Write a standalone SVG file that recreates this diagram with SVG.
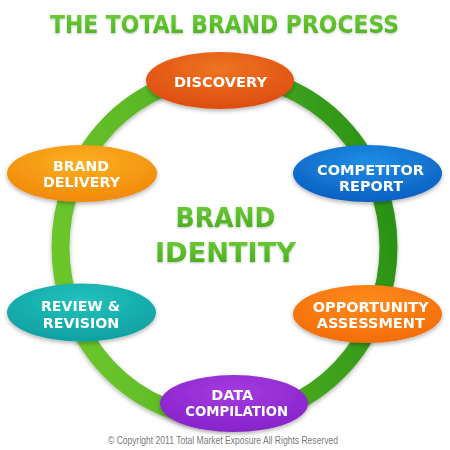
<svg xmlns="http://www.w3.org/2000/svg" width="450" height="450" viewBox="0 0 450 450">
<style>
.lbl{font-family:"DejaVu Sans","Liberation Sans",Arial,sans-serif;font-weight:bold;font-size:14.5px;fill:#ffffff;text-anchor:middle}
.big{font-family:"DejaVu Sans","Liberation Sans",Arial,sans-serif;font-weight:bold;font-size:26px;fill:url(#gtxt);text-anchor:middle}
.title{font-family:"DejaVu Sans","Liberation Sans",Arial,sans-serif;font-weight:bold;font-size:24.5px;fill:url(#gtitle);text-anchor:middle}
.copy{font-family:"Liberation Sans",Arial,sans-serif;font-size:10px;fill:#7a7a7a;text-anchor:middle}
.node{filter:url(#sh)}
</style>
<defs>
<filter id="sh" x="-20%" y="-30%" width="140%" height="170%">
<feDropShadow dx="0" dy="2" stdDeviation="2" flood-color="#000" flood-opacity="0.3"/>
</filter>
<filter id="tsh" x="-10%" y="-20%" width="120%" height="150%">
<feDropShadow dx="0" dy="1" stdDeviation="0.8" flood-color="#000" flood-opacity="0.25"/>
</filter>
<linearGradient id="gtitle" x1="0" y1="0" x2="0" y2="1">
<stop offset="0" stop-color="#6fd13a"/>
<stop offset="1" stop-color="#4aae1e"/>
</linearGradient>
<linearGradient id="gtxt" x1="0" y1="0" x2="0" y2="1">
<stop offset="0" stop-color="#6ccd35"/>
<stop offset="1" stop-color="#45a81c"/>
</linearGradient>
<linearGradient id="gring" x1="0" y1="0.55" x2="1" y2="0.35">
<stop offset="0" stop-color="#6cc62c"/>
<stop offset="0.5" stop-color="#52b022"/>
<stop offset="1" stop-color="#2a9216"/>
</linearGradient>
<radialGradient id="gdisc" cx="0.5" cy="0.3" r="0.75">
<stop offset="0" stop-color="#ee7422"/>
<stop offset="1" stop-color="#dc4a0e"/>
</radialGradient>
<radialGradient id="gbd" cx="0.5" cy="0.3" r="0.75">
<stop offset="0" stop-color="#fbb022"/>
<stop offset="1" stop-color="#f08608"/>
</radialGradient>
<radialGradient id="gcr" cx="0.5" cy="0.3" r="0.75">
<stop offset="0" stop-color="#1e8ee4"/>
<stop offset="1" stop-color="#0a5cc0"/>
</radialGradient>
<radialGradient id="gopp" cx="0.5" cy="0.3" r="0.75">
<stop offset="0" stop-color="#ff8c1e"/>
<stop offset="1" stop-color="#f26a06"/>
</radialGradient>
<radialGradient id="grev" cx="0.5" cy="0.3" r="0.75">
<stop offset="0" stop-color="#22c2bc"/>
<stop offset="1" stop-color="#0e9ea0"/>
</radialGradient>
<radialGradient id="gdata" cx="0.5" cy="0.3" r="0.75">
<stop offset="0" stop-color="#a53ae0"/>
<stop offset="1" stop-color="#8422c8"/>
</radialGradient>
</defs>
<rect width="450" height="450" fill="#ffffff"/>
<text class="title" x="224.5" y="33" textLength="349" lengthAdjust="spacingAndGlyphs" filter="url(#tsh)">THE TOTAL BRAND PROCESS</text>
<g id="connectors">
<ellipse cx="224.5" cy="247" rx="164" ry="172" fill="none" stroke="url(#gring)" stroke-width="18" filter="url(#sh)"/>
</g>
<g id="center">
<text class="big" x="225.5" y="227" textLength="100" lengthAdjust="spacingAndGlyphs" filter="url(#tsh)">BRAND</text>
<text class="big" x="225.5" y="262" textLength="141" lengthAdjust="spacingAndGlyphs" filter="url(#tsh)">IDENTITY</text>
</g>
<g id="discovery" class="node">
<ellipse cx="220" cy="80.5" rx="74" ry="28.5" fill="url(#gdisc)"/>
<text class="lbl" x="220.5" y="87" textLength="93" lengthAdjust="spacingAndGlyphs">DISCOVERY</text>
</g>
<g id="competitor-report" class="node">
<ellipse cx="367.5" cy="173.5" rx="74.5" ry="28.5" fill="url(#gcr)"/>
<text class="lbl" x="370.5" y="175" textLength="107" lengthAdjust="spacingAndGlyphs">COMPETITOR</text>
<text class="lbl" x="371" y="191" textLength="64" lengthAdjust="spacingAndGlyphs">REPORT</text>
</g>
<g id="opportunity-assessment" class="node">
<ellipse cx="367.5" cy="314" rx="74.5" ry="29" fill="url(#gopp)"/>
<text class="lbl" x="370.7" y="311.5" textLength="116" lengthAdjust="spacingAndGlyphs">OPPORTUNITY</text>
<text class="lbl" x="370.8" y="328.3" textLength="108" lengthAdjust="spacingAndGlyphs">ASSESSMENT</text>
</g>
<g id="data-compilation" class="node">
<ellipse cx="234" cy="403.5" rx="74" ry="28.5" fill="url(#gdata)"/>
<text class="lbl" x="232.2" y="399.5" textLength="42" lengthAdjust="spacingAndGlyphs">DATA</text>
<text class="lbl" x="236.7" y="416" textLength="103" lengthAdjust="spacingAndGlyphs">COMPILATION</text>
</g>
<g id="review-revision" class="node">
<ellipse cx="81.5" cy="312.5" rx="74.5" ry="29" fill="url(#grev)"/>
<text class="lbl" x="80.5" y="311" textLength="79" lengthAdjust="spacingAndGlyphs">REVIEW &amp;</text>
<text class="lbl" x="81" y="328.3" textLength="76.6" lengthAdjust="spacingAndGlyphs">REVISION</text>
</g>
<g id="brand-delivery" class="node">
<ellipse cx="82" cy="173.5" rx="75" ry="28.5" fill="url(#gbd)"/>
<text class="lbl" x="81" y="170.7" textLength="56" lengthAdjust="spacingAndGlyphs">BRAND</text>
<text class="lbl" x="81.5" y="187.3" textLength="77" lengthAdjust="spacingAndGlyphs">DELIVERY</text>
</g>
<text class="copy" x="223" y="444" textLength="230" lengthAdjust="spacingAndGlyphs">© Copyright 2011 Total Market Exposure All Rights Reserved</text>
</svg>
